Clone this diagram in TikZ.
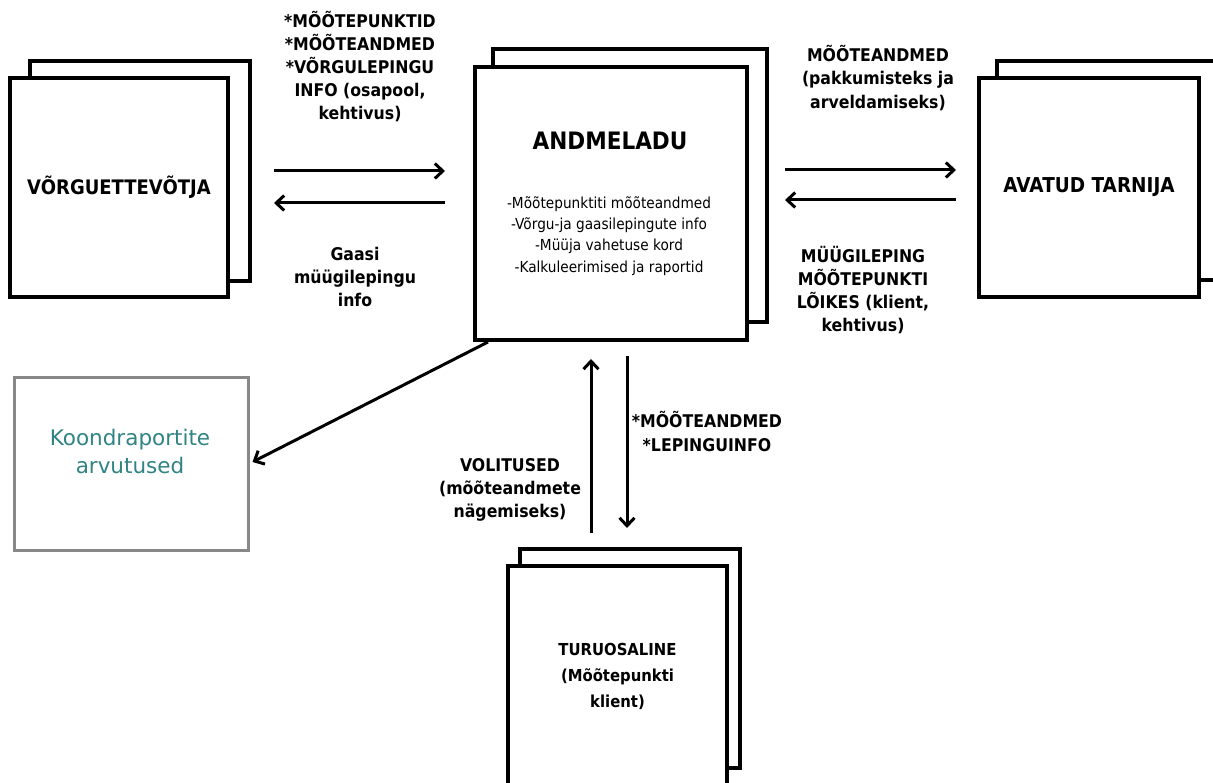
\documentclass[tikz,border=0pt]{standalone}
\usepackage{fontspec}
\setmainfont[FakeStretch=0.9]{DejaVu Sans}
\newfontfamily\widefont{DejaVu Sans}
\usetikzlibrary{arrows.meta}
\definecolor{tealtxt}{RGB}{49,132,132}
\definecolor{graybox}{RGB}{136,136,136}
\begin{document}
\begin{tikzpicture}[x=1pt,y=-1pt,
  box/.style={draw=black,line width=4pt,fill=white,inner sep=0pt,align=center},
  arr/.style={line width=3pt,-{Straight Barb[length=8pt,width=15pt]}},
  lbl/.style={font=\fontsize{17.5}{23.2}\selectfont\bfseries,align=center,inner sep=0pt},
  boxtxt/.style={font=\fontsize{20}{26}\selectfont\bfseries}]
\clip (0,0) rectangle (1213,783);
\fill[white] (0,0) rectangle (1213,783);

% VÕRGUETTEVÕTJA
\node[box,minimum width=220pt,minimum height=220pt] (vorB) at (140,171) {};
\node[box,boxtxt,minimum width=218pt,minimum height=219pt] (vor) at (119,187.5) {VÕRGUETTEVÕTJA};

% ANDMELADU
\node[box,minimum width=274pt,minimum height=273pt] (andB) at (630,185.5) {};
\node[box,minimum width=272pt,minimum height=273pt] (and) at (611,203.5) {};
\node[font=\fontsize{24}{30}\selectfont\bfseries,inner sep=0pt] (andT) at (610,141) {ANDMELADU};
\node[font=\fontsize{15.2}{21.2}\selectfont,align=center,inner sep=0pt] (andL) at (609,236) {-Mõõtepunktiti mõõteandmed\\-Võrgu-ja gaasilepingute info\\-Müüja vahetuse kord\\-Kalkuleerimised ja raportid};

% AVATUD TARNIJA
\node[box,minimum width=220pt,minimum height=219pt] (avaB) at (1107,170.5) {};
\node[box,font=\fontsize{20.5}{26}\selectfont\bfseries,minimum width=220pt,minimum height=219pt] (ava) at (1089,187.5) {AVATUD TARNIJA};

% TURUOSALINE
\node[box,minimum width=220pt,minimum height=219pt] (turB) at (630,658.5) {};
\node[box,minimum width=219pt,minimum height=220pt,font=\fontsize{16.5}{26}\selectfont\bfseries] (tur) at (617.5,676) {TURUOSALINE\\(Mõõtepunkti\\klient)};

% Koondraportite
\node[draw=graybox,line width=3pt,fill=white,minimum width=234pt,minimum height=172pt,inner sep=0pt] (koo) at (131,464) {};
\node[text=tealtxt,font=\widefont\fontsize{21.5}{28}\selectfont,align=center,inner sep=0pt] (kooT) at (130,451) {Koondraportite\\arvutused};

% labels
\node[lbl] (l1) at (360,66.5) {*MÕÕTEPUNKTID\\*MÕÕTEANDMED\\*VÕRGULEPINGU\\INFO (osapool,\\kehtivus)};
\node[lbl] (l2) at (355,277) {Gaasi\\müügilepingu\\info};
\node[lbl] (l3) at (878,78) {MÕÕTEANDMED\\(pakkumisteks ja\\arveldamiseks)};
\node[lbl] (l4) at (863,290) {MÜÜGILEPING\\MÕÕTEPUNKTI\\LÕIKES (klient,\\kehtivus)};
\node[lbl] (l5) at (707,431.5) {*MÕÕTEANDMED\\*LEPINGUINFO};
\node[lbl] (l6) at (510,490) {VOLITUSED\\(mõõteandmete\\nägemiseks)};

% connectors
\draw[arr] ([shift={(44,-16.5)}]vor.east) -- ([shift={(-28,-32.5)}]and.west);
\draw[arr] ([shift={(-28,-0.5)}]and.west) -- ([shift={(44,15.5)}]vor.east);
\draw[arr] ([shift={(36,-33.5)}]and.east) -- ([shift={(-21,-17.5)}]ava.west);
\draw[arr] ([shift={(-21,12.5)}]ava.west) -- ([shift={(36,-3.5)}]and.east);
\draw[arr] ([shift={(15,0)}]and.south west) -- ([shift={(3,-2)}]koo.east);
\draw[arr] ([shift={(-39,-14)}]turB.north) -- ([shift={(-20,17)}]and.south);
\draw[arr] ([shift={(16,14)}]and.south) -- ([shift={(-3,-19)}]turB.north);
\end{tikzpicture}
\end{document}
